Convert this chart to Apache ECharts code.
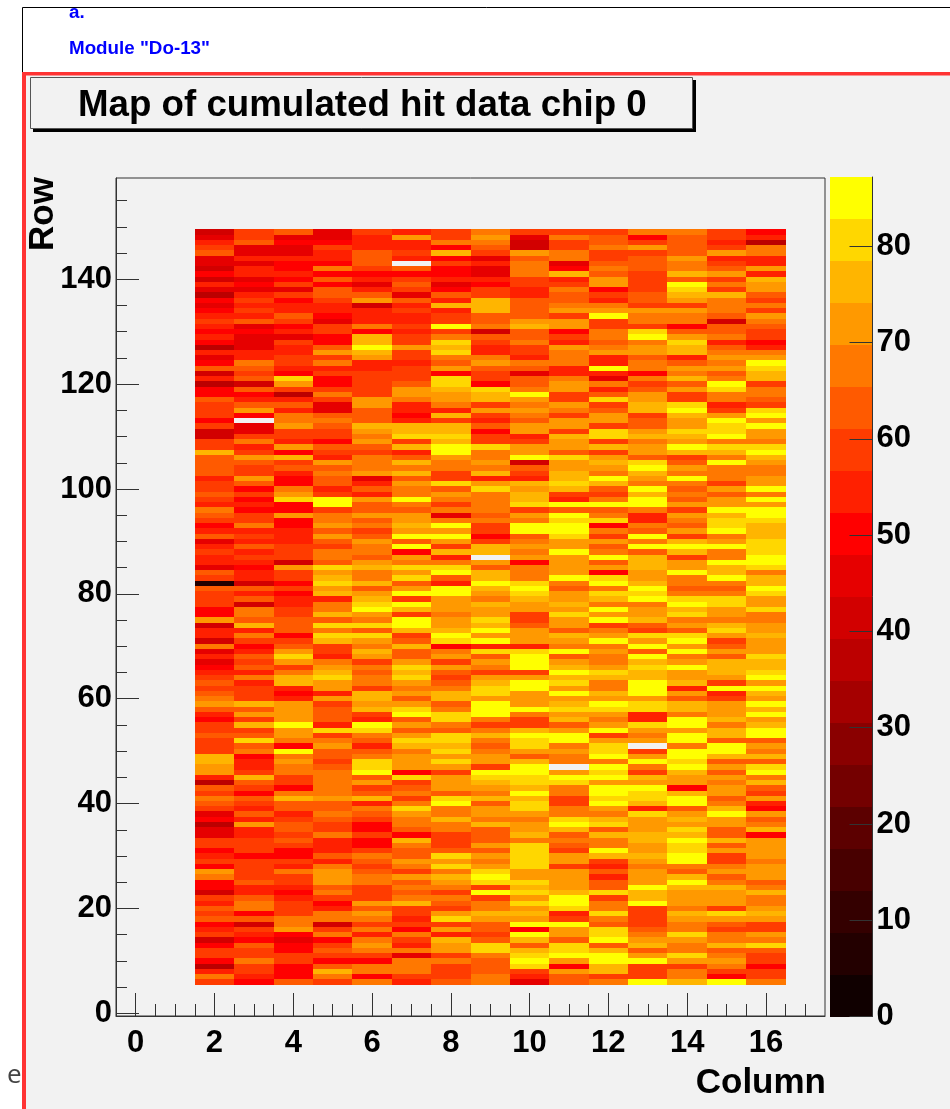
<!DOCTYPE html>
<html>
<head>
<meta charset="utf-8">
<script src="https://cdn.jsdelivr.net/npm/echarts@6/dist/echarts.min.js"></script>
<style>html,body{margin:0;padding:0;background:#fff}#c{width:950px;height:1109px;filter:blur(0.5px)}</style>
</head>
<body>
<div id="c"></div>
<script>
const headerLine1 = 'a.';
const headerLine2 = 'Module "Do-13"';
const chartTitle = 'Map of cumulated hit data chip 0';
const xName = 'Column';
const yName = 'Row';
const columns = [2,3,4,5,6,7,8,9,10,11,12,13,14,15,16];
const topRow = 149;
const xMajor = [0,2,4,6,8,10,12,14,16];
const xMinor = [0.5,1,1.5,2.5,3,3.5,4.5,5,5.5,6.5,7,7.5,8.5,9,9.5,10.5,11,11.5,12.5,13,13.5,14.5,15,15.5,16.5,17];
const yMajor = [0,20,40,60,80,100,120,140];
const yMinor = [5,10,15,25,30,35,45,50,55,65,70,75,85,90,95,105,110,115,125,130,135,145,150,155];
const barTicks = [0,10,20,30,40,50,60,70,80];
const zMax = 87.2;
const palette = ['#100000','#230000','#340000','#480000','#5c0000','#740000','#8a0000','#a50000','#bc0000','#d20000','#e60000','#ff0000','#ff2000','#ff3c00','#ff5a00','#ff7800','#ff9900','#ffb500','#ffd700','#ffff00'];
// hit counts, first line is row 149, last line is row 6; null = no data (blank cell)
const hits = [
[41,59,63,46,59,55,59,68,59,59,59,68,68,59,50],
[46,59,46,46,55,72,59,72,46,68,63,50,63,59,55],
[55,63,50,50,55,55,68,68,41,59,63,59,63,55,37],
[59,46,46,59,55,55,50,63,41,59,68,72,63,59,68],
[63,46,46,55,63,59,76,59,72,68,59,59,63,72,68],
[46,55,55,55,63,55,50,46,63,68,59,63,72,55,55],
[46,46,50,50,63,null,59,55,68,46,63,63,68,59,55],
[41,55,50,68,59,63,50,46,68,50,68,63,68,63,72],
[50,55,55,50,50,50,50,46,68,76,63,59,76,72,55],
[41,46,50,63,55,59,55,55,59,55,72,59,63,59,76],
[55,50,59,50,46,63,46,50,59,59,72,59,85,68,72],
[46,46,46,63,55,59,50,59,55,68,50,59,81,59,72],
[37,55,59,63,63,46,63,59,55,63,59,63,76,76,63],
[50,59,50,59,72,63,55,76,63,63,55,63,72,68,59],
[46,55,55,55,41,55,76,76,63,68,68,59,59,68,68],
[50,59,55,55,55,59,55,76,63,72,72,72,72,68,59],
[55,55,63,50,55,55,59,63,63,59,85,68,68,63,72],
[59,63,59,46,55,55,59,63,72,72,59,68,68,41,68],
[55,46,50,59,68,59,85,68,76,72,59,59,50,63,63],
[50,50,55,59,50,55,59,41,63,50,68,81,63,63,59],
[55,46,46,50,76,59,68,63,63,59,68,85,72,68,59],
[50,46,59,50,76,59,81,59,68,55,63,68,81,55,50],
[37,46,55,63,85,72,76,55,59,72,68,72,76,63,55],
[55,55,55,72,76,59,81,55,59,68,72,72,76,68,68],
[46,55,59,59,72,59,68,68,55,68,55,63,55,72,72],
[50,68,59,68,55,55,63,72,68,68,55,68,63,68,85],
[63,63,55,55,55,59,72,63,63,55,85,68,72,72,81],
[41,59,50,59,59,59,50,59,46,55,55,50,68,63,76],
[55,63,81,50,59,59,81,59,63,68,46,68,76,68,76],
[37,41,72,50,59,63,81,50,63,72,68,59,63,85,59],
[50,63,59,59,59,72,76,81,68,72,55,63,72,81,68],
[50,50,37,68,59,72,72,76,85,59,63,72,59,68,68],
[63,55,55,59,72,68,72,76,72,59,81,72,59,68,63],
[59,63,63,46,72,55,68,59,68,72,59,76,81,55,59],
[59,72,55,46,63,55,55,72,72,68,63,76,85,59,81],
[59,50,68,63,63,50,76,59,68,59,72,59,76,72,85],
[50,null,68,68,63,55,59,55,63,72,72,63,72,85,72],
[59,46,72,63,76,76,76,63,72,72,59,63,72,81,85],
[41,46,59,59,72,76,76,50,72,59,81,72,81,81,72],
[41,59,59,59,68,81,81,59,55,76,81,76,76,85,72],
[59,68,55,50,72,59,76,59,59,72,59,68,72,68,68],
[59,55,72,63,63,76,85,81,72,72,76,72,85,81,81],
[76,59,50,59,59,55,85,68,72,63,59,72,76,76,85],
[63,72,76,55,68,63,72,68,85,81,72,63,59,68,76],
[63,63,59,72,68,76,68,72,41,72,76,81,63,85,72],
[63,59,63,63,68,68,68,68,63,72,72,85,72,68,68],
[63,59,55,68,72,76,59,76,59,76,68,76,68,68,68],
[55,72,50,63,46,63,59,55,55,76,85,72,85,68,72],
[59,63,50,63,55,72,81,72,76,81,76,68,68,59,72],
[59,50,68,55,63,68,63,81,72,76,63,85,63,72,85],
[63,59,72,59,55,68,72,68,76,59,59,76,68,63,68],
[59,50,81,85,72,85,68,68,76,55,68,85,63,72,85],
[55,55,50,85,63,68,59,68,81,85,85,85,72,72,72],
[68,50,50,59,63,63,68,68,59,63,63,68,59,85,85],
[63,59,72,68,72,72,46,63,72,85,68,55,72,76,85],
[59,59,50,68,63,72,68,68,68,81,81,55,68,81,81],
[50,68,50,72,68,76,85,59,85,85,50,68,63,81,76],
[55,55,55,63,59,72,72,59,85,85,68,63,72,85,76],
[63,59,55,72,63,85,85,50,63,81,59,85,59,68,76],
[46,55,55,63,72,63,72,59,68,72,72,68,76,72,81],
[55,63,59,59,68,85,59,76,72,72,63,85,85,85,81],
[59,55,59,68,68,50,76,76,68,85,68,63,76,68,81],
[55,59,59,68,63,72,55,null,72,72,85,76,59,68,85],
[55,55,41,63,72,68,68,72,50,72,63,76,72,85,85],
[46,50,72,81,76,81,81,63,68,72,72,76,72,76,81],
[63,55,59,72,68,72,85,76,68,72,50,72,85,76,68],
[59,55,59,76,68,81,63,76,68,85,81,72,68,85,76],
[8,41,50,81,76,63,55,85,81,68,85,76,68,68,76],
[63,63,59,72,63,72,85,76,85,63,68,85,63,63,85],
[59,55,50,76,72,85,85,72,81,72,81,81,68,68,81],
[59,63,55,55,76,59,72,68,76,72,76,85,81,81,72],
[59,41,55,68,81,85,72,76,72,76,68,68,85,81,72],
[50,68,59,68,85,76,72,72,72,72,85,72,76,72,81],
[50,68,59,76,72,59,68,72,59,81,72,72,81,72,68],
[72,63,63,63,68,85,72,81,59,72,85,76,68,68,68],
[41,76,63,81,81,85,72,76,63,72,59,63,72,76,72],
[55,55,63,68,63,76,76,85,72,63,68,59,63,81,72],
[55,68,50,81,81,59,85,72,72,76,72,81,81,72,76],
[41,59,59,76,72,63,81,85,72,72,85,72,85,59,72],
[68,50,63,59,68,76,50,55,55,68,68,85,72,63,72],
[46,55,72,59,76,63,68,81,81,85,72,63,85,72,72],
[55,63,81,55,72,63,72,63,85,63,68,85,68,63,81],
[46,59,72,68,59,72,59,72,85,72,68,76,72,76,76],
[50,63,59,72,68,81,72,68,85,76,72,81,85,76,76],
[55,55,68,76,63,76,63,59,59,85,81,76,72,76,81],
[59,68,76,81,68,81,59,72,72,76,76,76,72,72,85],
[63,55,76,72,68,72,63,76,85,81,68,85,76,59,72],
[59,59,55,72,59,68,68,81,85,72,68,85,55,85,85],
[63,59,50,55,76,72,76,81,72,85,76,85,72,55,76],
[68,59,55,72,76,63,76,72,72,72,72,72,63,59,72],
[72,76,72,59,72,72,63,85,72,76,85,81,76,72,85],
[63,63,72,63,76,81,68,85,85,81,81,81,76,72,76],
[55,72,72,63,59,85,81,85,68,72,72,55,68,72,85],
[50,59,72,63,55,63,81,68,59,76,68,55,85,76,72],
[59,76,85,55,85,72,68,59,59,63,72,81,85,68,76],
[59,59,72,81,81,63,63,68,76,72,85,72,72,76,85],
[63,63,72,59,68,72,81,76,85,85,59,68,85,76,85],
[59,81,68,68,63,81,81,68,81,85,72,72,85,63,63],
[59,63,50,72,55,76,76,63,81,68,81,null,68,85,72],
[59,68,85,63,63,68,81,68,72,72,81,59,85,85,68],
[76,50,68,63,68,72,72,72,63,68,85,72,85,76,76],
[76,55,72,59,81,72,81,72,76,68,68,85,81,63,63],
[72,55,68,63,81,72,72,59,85,null,85,68,85,72,81],
[72,59,68,68,85,50,59,85,85,72,81,59,76,63,85],
[55,76,59,68,63,81,72,81,81,85,85,76,72,72,68],
[37,63,59,68,72,59,72,76,81,81,72,72,72,68,76],
[63,59,50,68,59,63,72,72,76,68,85,85,50,72,63],
[59,50,68,68,63,68,63,68,85,68,85,81,76,72,59],
[68,63,76,72,76,59,81,76,76,59,81,81,85,63,72],
[63,59,63,63,55,68,85,63,81,59,85,76,85,68,55],
[59,55,63,63,68,81,68,72,81,68,72,55,63,76,50],
[46,63,55,68,63,72,68,72,72,68,68,81,72,85,72],
[50,55,59,63,59,68,76,68,68,81,76,72,76,72,63],
[37,72,63,59,50,68,68,76,72,85,81,72,72,72,68],
[46,55,63,59,50,63,68,63,72,76,63,72,81,63,76],
[46,55,59,68,59,50,59,63,76,63,76,76,76,63,50],
[59,59,63,55,50,76,59,63,68,68,68,76,85,76,72],
[59,59,59,55,50,68,59,72,81,63,68,72,81,63,72],
[50,59,50,55,59,63,63,63,81,59,85,72,81,72,72],
[55,50,50,63,68,63,81,72,81,72,76,76,85,59,72],
[59,59,59,55,63,72,72,68,81,72,59,72,85,59,68],
[50,59,55,68,59,68,81,72,81,59,55,68,68,68,72],
[72,59,68,72,63,59,68,81,72,72,63,72,63,72,72],
[68,59,59,72,68,72,76,85,72,72,55,72,76,63,72],
[50,63,59,72,68,63,72,81,81,72,63,72,85,68,63],
[50,55,55,63,59,68,68,59,76,72,63,85,76,76,68],
[41,55,50,68,59,63,59,85,81,76,81,76,72,72,76],
[59,63,55,59,59,68,68,59,72,85,59,76,72,72,68],
[55,68,59,50,72,76,63,68,81,85,68,85,72,72,68],
[63,68,59,55,63,59,59,68,72,81,68,59,68,59,72],
[59,50,59,68,72,59,72,76,76,55,81,59,76,81,76],
[63,63,68,68,68,55,81,72,72,59,68,59,72,72,72],
[50,41,68,41,59,59,59,63,85,85,63,59,68,63,59],
[55,59,72,59,68,50,72,63,50,72,81,63,68,59,59],
[59,55,50,68,55,68,55,59,85,72,81,68,81,68,72],
[41,50,46,50,68,59,76,63,76,63,85,72,72,68,68],
[50,63,50,59,72,55,72,81,63,81,63,76,68,76,81],
[59,59,50,63,68,68,72,81,76,81,76,63,68,63,63],
[59,59,59,59,59,46,59,68,81,85,85,72,81,68,59],
[50,68,59,50,50,68,68,63,85,72,85,85,72,72,59],
[37,59,50,63,68,68,59,63,81,50,76,59,59,68,50],
[55,59,50,76,68,68,59,63,59,72,76,59,68,59,59],
[68,55,50,68,50,59,59,68,55,63,59,59,68,50,59],
[59,50,63,59,68,55,63,68,46,63,68,85,76,85,68]
];
const cells = [];
hits.forEach((vals, i) => vals.forEach((v, j) => { if (v !== null) cells.push([columns[j], topRow - i, v]); }));
const levelStep = zMax / palette.length;
const barLevels = palette.map((c, i) => [i]);
const levelColor = v => palette[Math.min(palette.length - 1, Math.floor(v / levelStep))];

const bold = '"Liberation Sans", Arial, sans-serif';
const labelFont = {fontFamily:bold, fontWeight:'bold', fontSize:31, color:'#000'};
const axisDark = {color:'#333', width:1};

const chart = echarts.init(document.getElementById('c'), null, {renderer:'canvas'});
chart.setOption({
  animation:false,
  backgroundColor:'#ffffff',
  title:{
    text:chartTitle, left:78, top:87, padding:0,
    textStyle:{fontFamily:bold, fontWeight:'bold', fontSize:36.7, color:'#000'}
  },
  graphic:[
    {type:'rect', z:-10, shape:{x:22.5,y:7.5,width:930,height:70}, style:{fill:'#fff',stroke:'#000',lineWidth:1}, silent:true},
    {type:'rect', z:-9, shape:{x:24,y:74,width:926,height:1035}, style:{fill:'#f2f2f2'}, silent:true},
    {type:'rect', z:-8, shape:{x:22,y:72,width:928,height:3.5}, style:{fill:'#ff3333'}, silent:true},
    {type:'rect', z:-8, shape:{x:22,y:72,width:4,height:1037}, style:{fill:'#ff3333'}, silent:true},
    {type:'rect', z:-7, shape:{x:33,y:80,width:663,height:52}, style:{fill:'#000'}, silent:true},
    {type:'rect', z:-6, shape:{x:30.5,y:77.5,width:662,height:51}, style:{fill:'#f2f2f2',stroke:'#555',lineWidth:1}, silent:true},
    {type:'text', z:5, x:69, y:13, style:{text:headerLine1, fill:'#0000ff', font:'bold 18.8px '+bold, textVerticalAlign:'middle'}},
    {type:'text', z:5, x:69, y:49, style:{text:headerLine2, fill:'#0000ff', font:'bold 18.8px '+bold, textVerticalAlign:'middle'}},
    {type:'text', z:5, x:7, y:1076, style:{text:'e', fill:'#444', font:'26px "Open Sans", sans-serif', textVerticalAlign:'middle'}},
    {type:'text', z:5, x:826, y:1083, style:{text:xName, fill:'#000', font:'bold 35px '+bold, textAlign:'right', textVerticalAlign:'middle'}},
    {type:'text', z:5, x:43, y:214, rotation:Math.PI/2, style:{text:yName, fill:'#000', font:'bold 35px '+bold, textAlign:'center', textVerticalAlign:'middle'}}
  ],
  grid:[
    {left:116, top:178, width:709, height:838, show:true, backgroundColor:'#f2f2f2', borderColor:'#333', borderWidth:1, containLabel:false},
    {left:830, top:177, width:42.5, height:839.5, show:false}
  ],
  xAxis:[
    {type:'value', gridIndex:0, min:-0.5, max:17.5, position:'bottom', splitLine:{show:false},
     axisLine:{show:true, onZero:false, lineStyle:axisDark},
     axisTick:{show:true, inside:true, length:23, lineStyle:axisDark, customValues:xMajor},
     axisLabel:Object.assign({show:true, margin:12, customValues:xMajor}, labelFont)},
    {type:'value', gridIndex:0, min:-0.5, max:17.5, position:'bottom', splitLine:{show:false},
     axisLine:{show:false, onZero:false},
     axisTick:{show:true, inside:true, length:12, lineStyle:axisDark, customValues:xMinor},
     axisLabel:{show:false}},
    {type:'value', gridIndex:1, min:0, max:1, show:false, axisLine:{onZero:false}}
  ],
  yAxis:[
    {type:'value', gridIndex:0, min:-0.5, max:159.3, position:'left', splitLine:{show:false},
     axisLine:{show:true, onZero:false, lineStyle:axisDark},
     axisTick:{show:true, inside:true, length:23, lineStyle:axisDark, customValues:yMajor},
     axisLabel:Object.assign({show:true, margin:4, padding:[0,0,2,0], customValues:yMajor}, labelFont)},
    {type:'value', gridIndex:0, min:-0.5, max:159.3, position:'left', splitLine:{show:false},
     axisLine:{show:false, onZero:false},
     axisTick:{show:true, inside:true, length:11, lineStyle:axisDark, customValues:yMinor},
     axisLabel:{show:false}},
    {type:'value', gridIndex:1, min:0, max:zMax, position:'right', z:5, splitLine:{show:false},
     axisLine:{show:true, onZero:false, lineStyle:axisDark},
     axisTick:{show:true, inside:true, length:23, lineStyle:axisDark, customValues:barTicks},
     axisLabel:Object.assign({show:true, margin:4, padding:[0,0,2,0], customValues:barTicks}, labelFont)}
  ],
  series:[
    {type:'custom', xAxisIndex:0, yAxisIndex:0, data:cells, silent:true, clip:false,
     encode:{x:0,y:1},
     renderItem:(params, api) => {
       const x = api.value(0), y = api.value(1);
       const a = api.coord([x-0.5, y+0.5]), b = api.coord([x+0.5, y-0.5]);
       const x0 = Math.round(a[0]), y0 = Math.round(a[1]), x1 = Math.round(b[0]), y1 = Math.round(b[1]);
       return {type:'rect', shape:{x:x0,y:y0,width:x1-x0,height:y1-y0}, style:{fill:levelColor(api.value(2))}};
     }},
    {type:'custom', xAxisIndex:2, yAxisIndex:2, data:barLevels, silent:true, clip:false,
     encode:{y:0},
     renderItem:(params, api) => {
       const i = api.value(0);
       const a = api.coord([0, (i+1)*levelStep]), b = api.coord([1, i*levelStep]);
       const y0 = Math.round(a[1]), y1 = Math.round(b[1]);
       return {type:'rect', shape:{x:a[0],y:y0,width:b[0]-a[0],height:y1-y0}, style:{fill:palette[i]}};
     }}
  ]
});
</script>
</body>
</html>
